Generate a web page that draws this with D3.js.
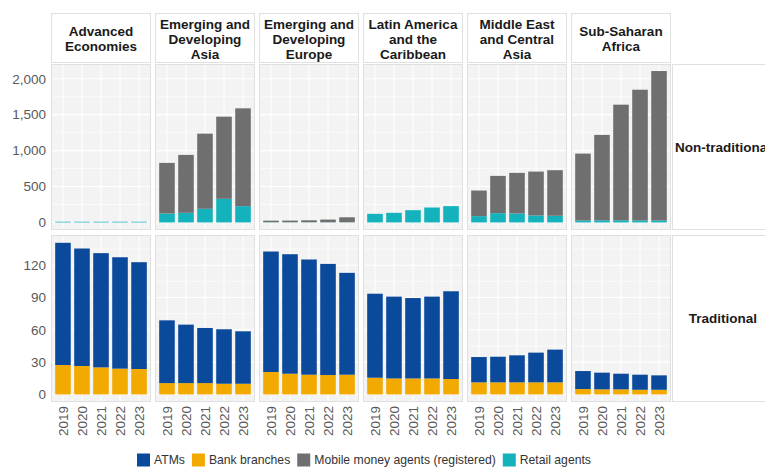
<!DOCTYPE html>
<html><head><meta charset="utf-8">
<script src="https://cdn.jsdelivr.net/npm/d3@7"></script>
<style>
html,body{margin:0;padding:0;background:#fff;}
svg{display:block;font-family:"Liberation Sans",Arial,sans-serif;}
</style></head>
<body>
<svg id="chart" width="765" height="468"></svg>
<script>
// ---- data ----
const regions = [
  ["Advanced", "Economies"],
  ["Emerging and", "Developing", "Asia"],
  ["Emerging and", "Developing", "Europe"],
  ["Latin America", "and the", "Caribbean"],
  ["Middle East", "and Central", "Asia"],
  ["Sub-Saharan", "Africa"]
];
const years = ["2019", "2020", "2021", "2022", "2023"];
const rowLabels = ["Non-traditional", "Traditional"];
const seriesNames = ["ATMs", "Bank branches", "Mobile money agents (registered)", "Retail agents"];
const seriesColors = ["#0B4A9B", "#F2A900", "#6F6F6F", "#14B2BC"];

// traditional (per region, per year)
const atms = [
  [113.5, 109.1, 106.1, 103.5, 99.2],
  [58.3, 54.3, 51.2, 50.6, 48.7],
  [111.9, 111.0, 107.0, 103.2, 94.6],
  [78.0, 76.0, 74.7, 76.0, 81.5],
  [23.5, 23.8, 25.1, 27.6, 30.4],
  [16.7, 15.5, 14.5, 14.0, 13.4]
];
const bankBranches = [
  [27.3, 26.4, 25.1, 23.9, 23.6],
  [10.5, 10.5, 10.5, 9.9, 9.9],
  [20.8, 19.2, 18.3, 18.0, 18.3],
  [15.5, 14.8, 14.8, 14.8, 14.3],
  [11.2, 11.2, 11.2, 11.2, 11.2],
  [5.0, 4.7, 4.7, 4.3, 4.3]
];
// non-traditional
const mobileMoney = [
  [0, 0, 0, 0, 0],
  [704, 806, 1046, 1143, 1361],
  [22, 23, 27, 37, 69],
  [0, 0, 0, 0, 0],
  [356, 518, 565, 611, 634],
  [930, 1188, 1609, 1819, 2079]
];
const retailAgents = [
  [10, 10, 10, 10, 10],
  [125, 134, 190, 329, 227],
  [3, 3, 3, 3, 3],
  [120, 134, 171, 208, 227],
  [88, 130, 125, 97, 93],
  [28, 30, 30, 28, 28]
];
const topTicks = [0, 500, 1000, 1500, 2000];
const topMinor = [250, 750, 1250, 1750];
const botTicks = [0, 30, 60, 90, 120];
const botMinor = [15, 45, 75, 105, 135];

// ---- layout ----
const svg = d3.select("#chart");
const panelW = 100, panelStep = 104, panelX0 = 51;
const stripTop = 13, stripBot = 63;
const rows = [
  {top: 64, bottom: 230, domain: [-105, 2205], ticks: topTicks, minor: topMinor, fmt: d3.format(","),
   stack: [{vals: retailAgents, color: seriesColors[3]}, {vals: mobileMoney, color: seriesColors[2]}]},
  {top: 235, bottom: 402, domain: [-7.05, 148.05], ticks: botTicks, minor: botMinor, fmt: d3.format(""),
   stack: [{vals: bankBranches, color: seriesColors[1]}, {vals: atms, color: seriesColors[0]}]}
];
const x = d3.scaleBand().domain(years).range([0, panelW]).paddingInner(0.18).paddingOuter(0.22);

const gridColor = "#ffffff", panelBg = "#F3F3F3", borderColor = "#E0E0E0";

// column strips
regions.forEach((lines, i) => {
  const px = panelX0 + i * panelStep;
  svg.append("rect").attr("x", px + 0.5).attr("y", stripTop + 0.5)
    .attr("width", panelW - 1).attr("height", stripBot - stripTop - 1)
    .attr("fill", "#fff").attr("stroke", borderColor);
  const lh = 15;
  const cy = (stripTop + stripBot) / 2 + 1;
  const t = svg.append("text").attr("x", px + panelW / 2).attr("text-anchor", "middle")
    .attr("font-size", 13.5).attr("font-weight", "bold").attr("fill", "#1a1a1a");
  lines.forEach((ln, k) => {
    t.append("tspan").attr("x", px + panelW / 2)
      .attr("y", cy + (k - (lines.length - 1) / 2) * lh)
      .attr("dy", "0.35em").text(ln);
  });
});

rows.forEach((row, r) => {
  const y = d3.scaleLinear().domain(row.domain).range([row.bottom, row.top]);
  // row strip on right
  const sx = panelX0 + 6 * panelStep - 3;
  svg.append("rect").attr("x", sx + 0.5).attr("y", row.top + 0.5)
    .attr("width", 120).attr("height", row.bottom - row.top - 1)
    .attr("fill", "#fff").attr("stroke", borderColor);
  svg.append("text").attr("x", 723).attr("y", (row.top + row.bottom) / 2)
    .attr("dy", "0.35em").attr("text-anchor", "middle")
    .attr("font-size", 13.5).attr("font-weight", "bold").attr("fill", "#1a1a1a")
    .text(rowLabels[r]);

  // y axis labels
  const yAxis = d3.axisLeft(y).tickValues(row.ticks).tickFormat(row.fmt).tickSize(0).tickPadding(0);
  const ga = svg.append("g").attr("transform", `translate(46,0)`).call(yAxis);
  ga.select(".domain").remove();
  ga.selectAll("text").attr("font-size", 13.5).attr("fill", "#595959")
    .attr("font-family", "Liberation Sans, Arial, sans-serif");

  regions.forEach((_, i) => {
    const px = panelX0 + i * panelStep;
    const g = svg.append("g").attr("transform", `translate(${px},0)`);
    g.append("rect").attr("x", 0.5).attr("y", row.top + 0.5)
      .attr("width", panelW - 1).attr("height", row.bottom - row.top - 1)
      .attr("fill", panelBg).attr("stroke", borderColor);
    row.minor.forEach(v => {
      if (y(v) > row.top && y(v) < row.bottom)
        g.append("line").attr("x1", 1).attr("x2", panelW - 1).attr("y1", y(v)).attr("y2", y(v))
          .attr("stroke", gridColor).attr("stroke-width", 0.6);
    });
    row.ticks.forEach(v => {
      g.append("line").attr("x1", 1).attr("x2", panelW - 1).attr("y1", y(v)).attr("y2", y(v))
        .attr("stroke", gridColor).attr("stroke-width", 1.1);
    });
    years.forEach(yr => {
      const cx = x(yr) + x.bandwidth() / 2;
      g.append("line").attr("x1", cx).attr("x2", cx).attr("y1", row.top + 1).attr("y2", row.bottom - 1)
        .attr("stroke", gridColor).attr("stroke-width", 1.1);
    });
    // stacked bars
    const base = years.map(() => 0);
    row.stack.forEach(s => {
      years.forEach((yr, j) => {
        const v = s.vals[i][j];
        if (v <= 0) return;
        const y0 = base[j], y1 = base[j] + v;
        g.append("rect").attr("x", x(yr)).attr("width", x.bandwidth())
          .attr("y", y(y1)).attr("height", y(y0) - y(y1)).attr("fill", s.color);
        base[j] = y1;
      });
    });
    // x labels (bottom row only)
    if (r === 1) {
      years.forEach(yr => {
        const cx = x(yr) + x.bandwidth() / 2;
        g.append("text").attr("transform", `translate(${cx},406) rotate(-90)`)
          .attr("text-anchor", "end").attr("dy", "0.36em")
          .attr("font-size", 13.5).attr("fill", "#595959").text(yr);
      });
    }
  });
});

// legend
const lg = svg.append("g").attr("transform", "translate(137,460)");
let lx = 0;
seriesNames.forEach((name, i) => {
  lg.append("rect").attr("x", lx).attr("y", -6.5).attr("width", 13).attr("height", 13).attr("fill", seriesColors[i]);
  const t = lg.append("text").attr("x", lx + 17).attr("y", 0).attr("dy", "0.35em")
    .attr("font-size", 12.2).attr("fill", "#333").text(name);
  lx += 17 + t.node().getComputedTextLength() + 7;
});
</script>
</body></html>
